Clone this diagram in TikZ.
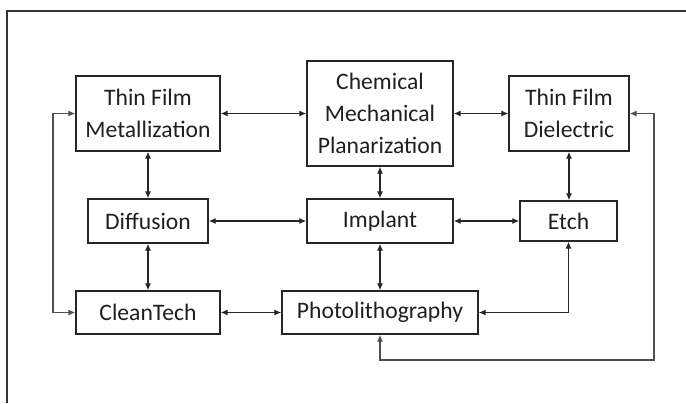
\documentclass[tikz,border=0pt]{standalone}
\usepackage{fontspec}
\setmainfont{Carlito}
\usetikzlibrary{arrows.meta, positioning}
\definecolor{framegray}{HTML}{333333}
\definecolor{linegray}{HTML}{262626}
\definecolor{loopgray}{HTML}{505050}

\begin{document}
\begin{tikzpicture}[x=0.025cm, y=-0.025cm,
  procbox/.style={rectangle, draw=linegray, line width=0.95pt, inner sep=0pt, align=center, text=black!88,
    font=\fontsize{16.8}{22.5}\selectfont},
  link/.style={{Latex[length=5pt,width=4.5pt]}-{Latex[length=5pt,width=4.5pt]}, draw=linegray, line width=1pt},
  looplink/.style={link, draw=loopgray}]
\useasboundingbox (0,0) rectangle (686,403);

% Outer frame
\coordinate (fbl) at (7,403);
\coordinate (ftl) at (7,11);
\coordinate (ftr) at (686,11);
\draw[framegray, line width=0.9pt] (fbl) -- (ftl) -- (ftr);

% Top row
\node[procbox, minimum width=3.6cm, minimum height=1.875cm] (metal) at (148,113.5) {Thin Film\\Metallization};
\node[procbox, minimum width=3.65cm, minimum height=2.625cm] (cmp) at (380,113.5) {Chemical\\Mechanical\\Planarization};
\node[procbox, minimum width=3cm, minimum height=1.875cm] (diel) at (569,113.5) {Thin Film\\Dielectric};

% Middle row
\node[procbox, minimum width=3cm, minimum height=1.1cm] (diff) at (148,221) {Diffusion};
\node[procbox, minimum width=3.65cm, minimum height=1.1cm] (impl) at (380,221) {Implant};
\node[procbox, minimum width=2.425cm, minimum height=1cm] (etch) at (568.5,221) {Etch};

% Bottom row
\node[procbox, minimum width=3.6cm, minimum height=1.075cm] (clean) at (148,312.5) {CleanTech};
\node[procbox, minimum width=4.9cm, minimum height=1.075cm] (photo) at (380,312.5) {Photolithography};

% Loop corners
\coordinate (lloop) at (53,312.5);
\coordinate (rloop) at (654,360);

% Draw connections
\draw[link] (metal) -- (cmp);
\draw[link] (cmp) -- (diel);
\draw[link] (diff) -- (impl);
\draw[link] (impl) -- (etch);
\draw[link] (clean) -- (photo);
\draw[link] (metal) -- (diff);
\draw[link] (diff) -- (clean);
\draw[link] (cmp) -- (impl);
\draw[link] (impl) -- (photo);
\draw[link] (diel.south) -- (diel.south |- etch.north);
\draw[link] (etch.south) |- (photo.east);
\draw[looplink] (metal.west) -| (lloop) -- (clean.west);
\draw[looplink] (diel.east) -| (rloop) -| (photo.south);

\end{tikzpicture}
\end{document}
